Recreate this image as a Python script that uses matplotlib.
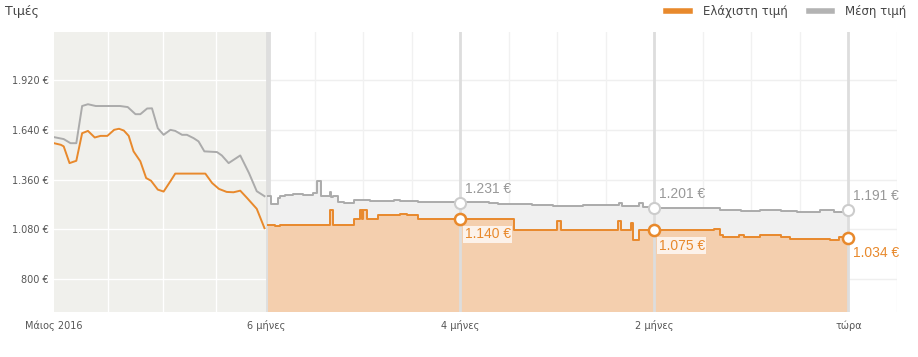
import numpy as np
import matplotlib
matplotlib.use("Agg")
import matplotlib.pyplot as plt
from matplotlib.lines import Line2D

# x = months relative to "now" (left part is the compressed older history)
hist_x = [-8.19, -8.12, -8.09, -8.03, -7.96, -7.90, -7.84, -7.77, -7.71, -7.64,
          -7.57, -7.52, -7.47, -7.42, -7.37, -7.30, -7.24, -7.19, -7.12, -7.06,
          -6.99, -6.94, -6.85, -6.63, -6.56, -6.49, -6.41, -6.34, -6.27, -6.20,
          -6.10, -6.02]
hist_min = [1565, 1556, 1547, 1453, 1466, 1621, 1634, 1597, 1606, 1606,
            1640, 1646, 1636, 1606, 1519, 1463, 1369, 1354, 1304, 1293,
            1351, 1394, 1394, 1394, 1341, 1308, 1291, 1289, 1298, 1257,
            1196, 1087]

hist_avg_x = [-8.19, -8.09, -8.02, -7.96, -7.90, -7.84, -7.76, -7.64, -7.51, -7.43,
              -7.35, -7.30, -7.23, -7.18, -7.12, -7.06, -6.99, -6.94, -6.87, -6.82,
              -6.75, -6.70, -6.64, -6.51, -6.46, -6.39, -6.27, -6.18, -6.10, -6.02]
hist_avg = [1599, 1588, 1565, 1565, 1774, 1784, 1774, 1774, 1774, 1768,
            1728, 1728, 1760, 1761, 1649, 1612, 1640, 1634, 1612, 1612,
            1593, 1575, 1519, 1515, 1496, 1453, 1496, 1397, 1295, 1267]

# last six months, stepped prices
min_x = [-5.98, -5.91, -5.86, -5.35, -5.31, -5.10, -5.04, -5.02, -5.00, -4.96,
         -4.85, -4.62, -4.55, -4.44, -3.45, -3.01, -2.96, -2.38, -2.34, -2.24,
         -2.22, -2.16, -1.39, -1.32, -1.29, -1.13, -1.08, -0.91, -0.70, -0.60,
         -0.19, -0.10, 0.0]
min_y = [1106, 1099, 1106, 1192, 1106, 1140, 1192, 1140, 1192, 1140,
         1159, 1166, 1159, 1140, 1075, 1125, 1075, 1125, 1075, 1119,
         1019, 1075, 1084, 1047, 1038, 1047, 1038, 1050, 1038, 1028,
         1019, 1038, 1034]

avg_x = [-5.98, -5.95, -5.88, -5.86, -5.81, -5.73, -5.62, -5.52, -5.48, -5.44,
         -5.35, -5.33, -5.31, -5.26, -5.20, -5.10, -5.03, -4.93, -4.69, -4.62,
         -4.44, -3.97, -3.71, -3.61, -3.26, -3.05, -2.74, -2.37, -2.33, -2.16,
         -2.12, -2.01, -1.45, -1.32, -1.25, -1.11, -0.91, -0.70, -0.53, -0.29,
         -0.15, 0.0]
avg_y = [1270, 1224, 1259, 1270, 1274, 1280, 1274, 1286, 1354, 1270,
         1293, 1261, 1270, 1233, 1228, 1246, 1248, 1241, 1246, 1241,
         1233, 1233, 1228, 1222, 1218, 1212, 1216, 1228, 1213, 1226,
         1205, 1203, 1199, 1192, 1187, 1181, 1187, 1181, 1177, 1187,
         1177, 1191]

mark_x = [-4, -2, 0]
mark_min = [1140, 1075, 1034]
mark_avg = [1231, 1201, 1191]

y_ticks = [800, 1080, 1360, 1640, 1920]
x_ticks = [-8.19, -6, -4, -2, 0]
x_labels = ["Μάιος 2016", "6 μήνες", "4 μήνες", "2 μήνες", "τώρα"]

ORANGE = "#e8892c"
GREY = "#ababab"

fig = plt.figure(figsize=(9.18, 3.57), dpi=100)
ax = fig.add_axes([54 / 918, 45 / 357, 843 / 918, 280 / 357])
x0, x1 = -8.19, 0.5
ax.set_xlim(x0, x1)
ax.set_ylim(616, 2190)

# backgrounds and grid
ax.axvspan(x0, -5.98, color="#f0f0ec", zorder=0, lw=0)
for v in y_ticks:
    ax.plot([x0, -5.98], [v, v], color="white", lw=1, zorder=1)
    ax.plot([-5.98, x1], [v, v], color="#efefef", lw=1, zorder=1)
for xv in [-7.63, -7.07, -6.52]:
    ax.axvline(xv, color="white", lw=1, zorder=1)
for xv in np.arange(-5.5, 0.6, 0.5):
    ax.axvline(xv, color="#f1f1f1", lw=1, zorder=1)
ax.axvline(-5.98, color="#dedede", lw=3.5, zorder=2)

# fills
ax.fill_between(avg_x, 616, avg_y, step="post", color="#f0f0f0", lw=0, zorder=2)
ax.fill_between(min_x, 616, min_y, step="post", color="#f4cfae", lw=0, zorder=3)

for xv in mark_x:
    ax.axvline(xv, color="#dddddd", lw=2, zorder=4)

# lines
ax.plot(hist_avg_x, hist_avg, color=GREY, lw=1.4, zorder=5)
ax.plot(hist_x, hist_min, color=ORANGE, lw=1.4, zorder=6)
ax.step(avg_x, avg_y, where="post", color=GREY, lw=1.4, zorder=5)
ax.step(min_x, min_y, where="post", color=ORANGE, lw=1.4, zorder=6)

ax.plot(mark_x, mark_avg, "o", ms=8, mfc="white", mec="#cccccc", mew=1.5, zorder=7)
ax.plot(mark_x, mark_min, "o", ms=8, mfc="white", mec=ORANGE, mew=1.8, zorder=7)

for xv, v in zip(mark_x, mark_avg):
    ax.annotate(f"{v:,} €".replace(",", "."), (xv, v), xytext=(3, 5),
                textcoords="offset points", fontsize=10, family="Liberation Sans",
                color="#999999", ha="left", va="bottom", zorder=8)
for xv, v, bg in zip(mark_x, mark_min, [True, True, False]):
    bbox = dict(facecolor="white", alpha=0.75, edgecolor="none", pad=1) if bg else None
    ax.annotate(f"{v:,} €".replace(",", "."), (xv, v), xytext=(3, -6),
                textcoords="offset points", fontsize=10, family="Liberation Sans",
                color=ORANGE, ha="left", va="top", bbox=bbox, zorder=8)

# axes text
ax.set_yticks(y_ticks)
ax.set_yticklabels([f"{v:,} €".replace(",", ".") for v in y_ticks])
ax.set_xticks(x_ticks)
ax.set_xticklabels(x_labels)
ax.tick_params(length=0, labelsize=7, colors="#555555", pad=4)
ax.tick_params(axis="x", pad=6)
for s in ax.spines.values():
    s.set_visible(False)

fig.text(5 / 918, 1 - 12 / 357, "Τιμές", fontsize=9, color="#444444", va="center")

handles = [Line2D([], [], color=ORANGE, lw=4), Line2D([], [], color="#b3b3b3", lw=4)]
fig.legend(handles, ["Ελάχιστη τιμή", "Μέση τιμή"], loc="upper right",
           bbox_to_anchor=(0.999, 1.015), ncol=2, frameon=False, fontsize=8.5,
           handlelength=2.0, handletextpad=1.1, columnspacing=1.8,
           labelcolor="#444444")

fig.savefig("out.png", dpi=100)
